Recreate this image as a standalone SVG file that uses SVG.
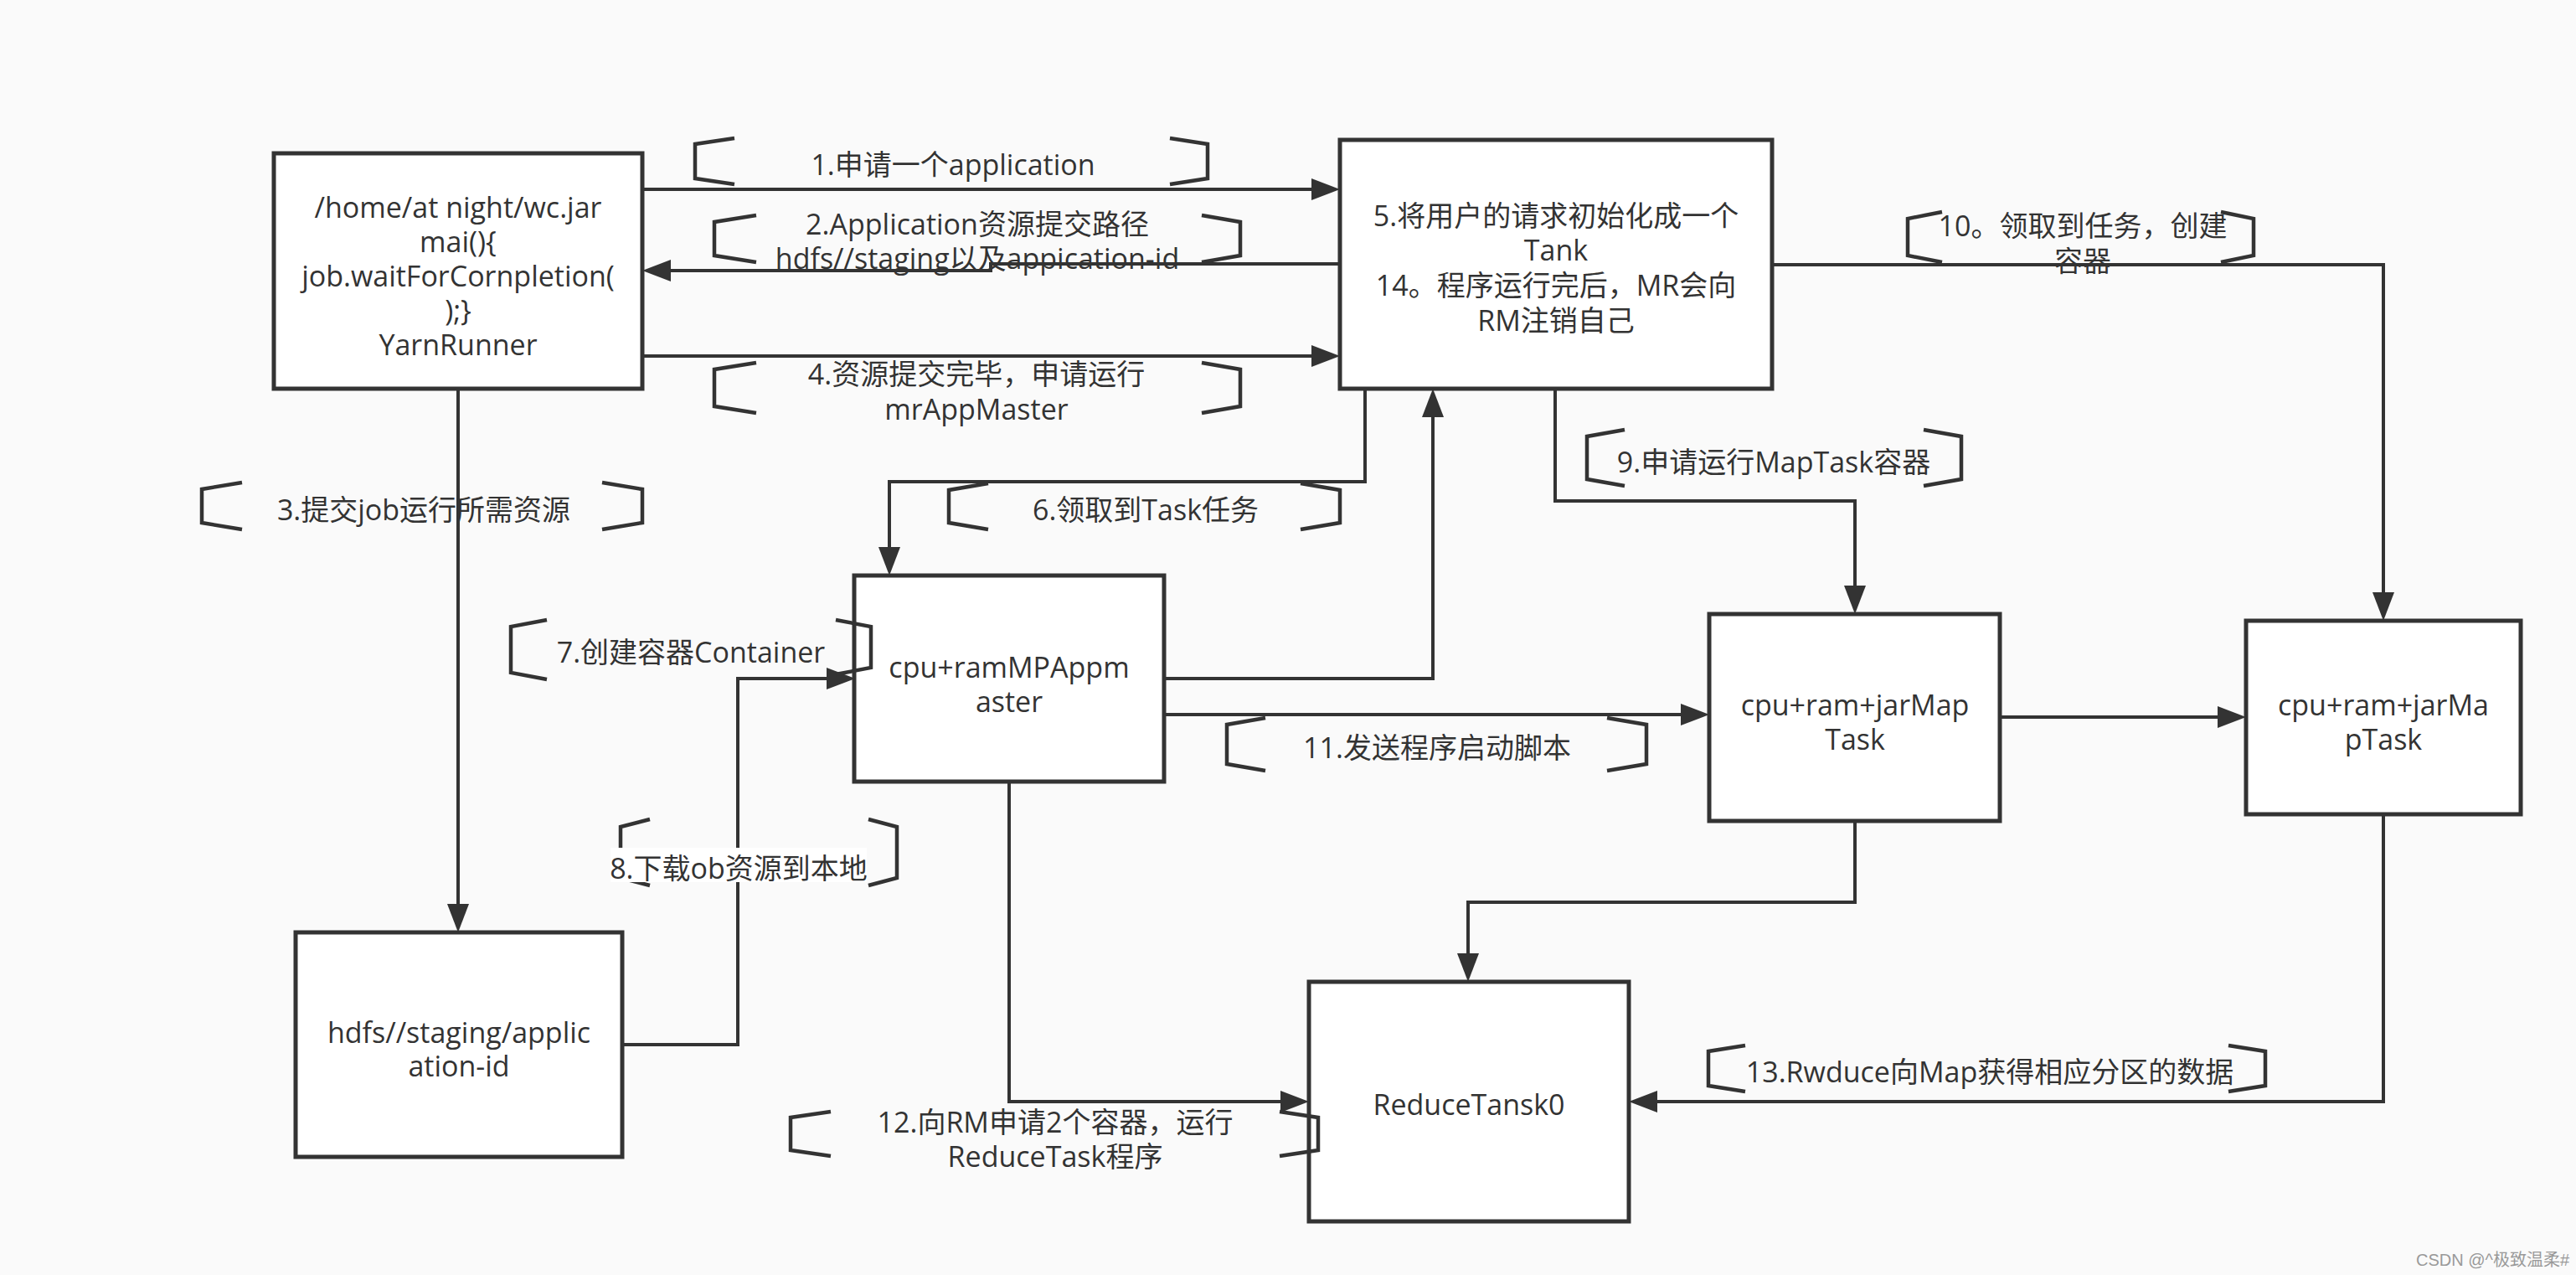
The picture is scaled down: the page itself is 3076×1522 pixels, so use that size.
<svg xmlns="http://www.w3.org/2000/svg" width="3076" height="1522" viewBox="0 0 3076 1522">
<defs>
<style>
.box{fill:#ffffff;stroke:#333333;stroke-width:5}
.ln{fill:none;stroke:#333333;stroke-width:4;marker-end:url(#ah)}
.br{fill:none;stroke:#333333;stroke-width:4.5}
text{font-family:"Open Sans","Noto Sans CJK SC",sans-serif;font-size:34px;fill:#333333;text-anchor:middle}
.wm{font-family:"Liberation Sans","Noto Sans CJK SC",sans-serif;font-size:20px;fill:#999999;text-anchor:start}
</style>
<marker id="ah" markerUnits="userSpaceOnUse" markerWidth="36" markerHeight="26" refX="28" refY="13" orient="auto">
<path d="M0,0 L34,13 L0,26 z" fill="#333333"/>
</marker>
</defs>
<rect x="0" y="0" width="3076" height="1522" fill="#fafafa"/>

<g id="yarnrunner">
<rect class="box" x="327" y="183" width="440" height="281"/>
<text x="547" y="260">/home/at night/wc.jar<tspan x="547" dy="41">mai(){</tspan><tspan x="547" dy="41">job.waitForCornpletion(</tspan><tspan x="547" dy="41">);}</tspan><tspan x="547" dy="41">YarnRunner</tspan></text>
</g>

<g id="rm">
<rect class="box" x="1600" y="167" width="516" height="297"/>
<text x="1858" y="270">5.将用户的请求初始化成一个<tspan x="1858" dy="41">Tank</tspan><tspan x="1858" dy="42">14。程序运行完后，MR会向</tspan><tspan x="1858" dy="42">RM注销自己</tspan></text>
</g>

<g id="appmaster">
<rect class="box" x="1020" y="687" width="370" height="246"/>
<text x="1205" y="809">cpu+ramMPAppm<tspan x="1205" dy="41">aster</tspan></text>
</g>

<g id="maptask1">
<rect class="box" x="2041" y="733" width="347" height="247"/>
<text x="2215" y="854">cpu+ram+jarMap<tspan x="2215" dy="41">Task</tspan></text>
</g>

<g id="maptask2">
<rect class="box" x="2682" y="741" width="328" height="231"/>
<text x="2846" y="854">cpu+ram+jarMa<tspan x="2846" dy="41">pTask</tspan></text>
</g>

<g id="hdfs">
<rect class="box" x="353" y="1113" width="390" height="268"/>
<text x="548" y="1245">hdfs//staging/applic<tspan x="548" dy="40">ation-id</tspan></text>
</g>

<g id="reducetask">
<rect class="box" x="1563" y="1172" width="382" height="286"/>
<text x="1754" y="1331">ReduceTansk0</text>
</g>

<g id="connectors">
<path class="ln" d="M767,226 H1594"/>
<path class="ln" d="M1600,315 H1183 V323 H773"/>
<path class="ln" d="M767,425 H1594"/>
<path class="ln" d="M547,464 V1107"/>
<path class="ln" d="M743,1247 H881 V810 H1015"/>
<path class="ln" d="M1630,464 V575 H1062 V681"/>
<path class="ln" d="M1390,810 H1711 V470"/>
<path class="ln" d="M1857,464 V598 H2215 V727"/>
<path class="ln" d="M2116,316 H2846 V735"/>
<path class="ln" d="M1390,853 H2035"/>
<path class="ln" d="M2388,856 H2676"/>
<path class="ln" d="M2215,980 V1077 H1753 V1166"/>
<path class="ln" d="M2846,972 V1315 H1951"/>
<path class="ln" d="M1205,933 V1315 H1557"/>
</g>

<g id="label1">
<path class="br" d="M877,165 L830,172 L830,213 L877,220"/>
<path class="br" d="M1397,165 L1442,172 L1442,213 L1397,220"/>
<text x="1138" y="209">1.申请一个application</text>
</g>

<g id="label2">
<path class="br" d="M903,257 L853,265 L853,305 L903,313"/>
<path class="br" d="M1435,257 L1481,265 L1481,305 L1435,313"/>
<text x="1167" y="280">2.Application资源提交路径</text>
<text x="1167" y="321">hdfs//staging以及appication-id</text>
</g>

<g id="label4">
<path class="br" d="M903,433 L853,441 L853,485 L903,493"/>
<path class="br" d="M1435,433 L1481,441 L1481,485 L1435,493"/>
<text x="1166" y="459">4.资源提交完毕，申请运行<tspan x="1166" dy="42">mrAppMaster</tspan></text>
</g>

<g id="label3">
<path class="br" d="M289,576 L241,584 L241,624 L289,632"/>
<path class="br" d="M719,576 L767,584 L767,624 L719,632"/>
<text x="506" y="621">3.提交job运行所需资源</text>
</g>

<g id="label6">
<path class="br" d="M1180,577 L1133,585 L1133,624 L1180,632"/>
<path class="br" d="M1553,577 L1600,585 L1600,624 L1553,632"/>
<text x="1368" y="621">6.领取到Task任务</text>
</g>

<g id="label7">
<path class="br" d="M653,740 L610,748 L610,803 L653,811"/>
<path class="br" d="M998,740 L1040,748 L1040,797 L998,805"/>
<text x="825" y="791">7.创建容器Container</text>
</g>

<g id="label8">
<path class="br" d="M776,978 L741,987 L741,1048 L776,1057"/>
<path class="br" d="M1037,978 L1071,987 L1071,1048 L1037,1057"/>
<rect x="729" y="1012" width="306" height="41" fill="#ffffff"/>
<text x="882" y="1049">8.下载ob资源到本地</text>
</g>

<g id="label9">
<path class="br" d="M1940,513 L1895,521 L1895,572 L1940,580"/>
<path class="br" d="M2297,513 L2342,521 L2342,572 L2297,580"/>
<text x="2118" y="564">9.申请运行MapTask容器</text>
</g>

<g id="label10">
<path class="br" d="M2319,253 L2278,261 L2278,305 L2319,313"/>
<path class="br" d="M2652,253 L2691,261 L2691,305 L2652,313"/>
<text x="2487" y="282">10。领取到任务，创建<tspan x="2487" dy="42">容器</tspan></text>
</g>

<g id="label11">
<path class="br" d="M1511,857 L1465,865 L1465,912 L1511,920"/>
<path class="br" d="M1919,857 L1966,865 L1966,912 L1919,920"/>
<text x="1716" y="905">11.发送程序启动脚本</text>
</g>

<g id="label12">
<path class="br" d="M992,1327 L944,1334 L944,1373 L992,1380"/>
<path class="br" d="M1528,1327 L1574,1334 L1574,1373 L1528,1380"/>
<text x="1260" y="1352">12.向RM申请2个容器，运行<tspan x="1260" dy="41">ReduceTask程序</tspan></text>
</g>

<g id="label13">
<path class="br" d="M2084,1248 L2040,1255 L2040,1296 L2084,1303"/>
<path class="br" d="M2661,1248 L2705,1255 L2705,1296 L2661,1303"/>
<text x="2376" y="1292">13.Rwduce向Map获得相应分区的数据</text>
</g>

<text class="wm" x="2885" y="1511">CSDN @^极致温柔#</text>
</svg>
